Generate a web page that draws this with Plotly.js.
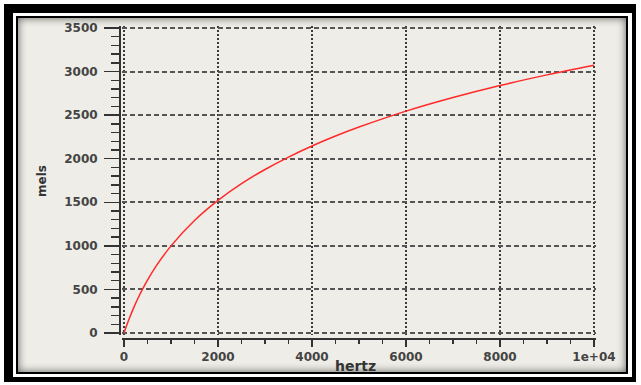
<!DOCTYPE html>
<html>
<head>
<meta charset="utf-8">
<script src="https://cdn.plot.ly/plotly-3.0.1.min.js"></script>
<style>
  html, body { margin:0; padding:0; background:#ffffff; width:641px; height:385px; overflow:hidden; }
  .box { position:absolute; }
  #b1 { left:4px; top:4px; width:632px; height:378px; background:#000; }
  #b2 { left:13px; top:13px; width:619px; height:364px; background:#fff; }
  #b3 { left:16px; top:16px; width:612px; height:358px; background:#000; }
  #b4 { left:18px; top:18px; width:608px; height:354px; background:#EEEDE7; box-shadow: inset 0 0 9px rgba(0,0,0,0.6); }
  #chart { position:absolute; left:0; top:0; width:641px; height:385px; }
</style>
</head>
<body>
<div class="box" id="b1"></div>
<div class="box" id="b2"></div>
<div class="box" id="b3"></div>
<div class="box" id="b4"></div>
<div id="chart"></div>
<script>
// values
const hertz = [0, 50, 100, 200, 300, 400, 500, 700, 1000, 1500, 2000, 2500, 3000, 3500, 4000, 4500, 5000, 6000, 7000, 8000, 9000, 10000];
const mels  = [0, 78, 150, 283, 402, 509, 607, 781, 1000, 1291, 1521, 1713, 1876, 2019, 2146, 2260, 2363, 2546, 2702, 2840, 2962, 3073];

const xTickVals = [0, 2000, 4000, 6000, 8000, 10000];
const xTickText = ['0', '2000', '4000', '6000', '8000', '1e+04'];
const yTickVals = [0, 500, 1000, 1500, 2000, 2500, 3000, 3500];
const yTickText = ['0', '500', '1000', '1500', '2000', '2500', '3000', '3500'];
const xTitle = 'hertz';
const yTitle = 'mels';

const W = 641, H = 385;
const mL = 100, mR = 45, mT = 26, mB = 40;
const pw = W - mL - mR, ph = H - mT - mB;

const tickFont = {family: 'DejaVu Sans, sans-serif', size: 12, color: '#444', weight: 'bold'};
const titleFont = {family: 'DejaVu Sans, sans-serif', size: 14, color: '#333', weight: 'bold'};

const trace = {
  x: hertz, y: mels, type: 'scatter', mode: 'lines',
  line: {color: '#ff2a2a', width: 1.5, shape: 'spline'},
  hoverinfo: 'skip'
};

const layout = {
  width: W, height: H,
  margin: {l: mL, r: mR, t: mT, b: mB, pad: 0},
  paper_bgcolor: 'rgba(0,0,0,0)',
  plot_bgcolor: 'rgba(0,0,0,0)',
  showlegend: false,
  xaxis: {
    domain: [(122 - mL) / pw, 1],
    anchor: 'free', position: (H - mB - 339) / ph,
    range: [-43, 10043], autorange: false, fixedrange: true,
    tickmode: 'array', tickvals: xTickVals, ticktext: xTickText,
    ticks: 'outside', ticklen: 7, tickwidth: 1.5, tickcolor: '#333',
    minor: {dtick: 500, tick0: 0, ticks: 'outside', ticklen: 4, tickwidth: 1.5, tickcolor: '#333', showgrid: false},
    showline: true, linecolor: '#333', linewidth: 2,
    showgrid: true, gridcolor: '#3a3a3a', gridwidth: 2, griddash: '2px,2px',
    zeroline: false,
    tickfont: tickFont
  },
  yaxis: {
    domain: [(H - mB - 335) / ph, 1],
    anchor: 'free', position: (120 - mL) / pw,
    range: [-23, 3523], autorange: false, fixedrange: true,
    tickmode: 'array', tickvals: yTickVals, ticktext: yTickText,
    ticks: 'outside', ticklen: 15, tickwidth: 1.5, tickcolor: '#333',
    minor: {dtick: 100, tick0: 0, ticks: 'outside', ticklen: 8, tickwidth: 1.5, tickcolor: '#333', showgrid: false},
    showline: true, linecolor: '#333', linewidth: 2,
    showgrid: true, gridcolor: '#555', gridwidth: 2, griddash: '5px,3px',
    zeroline: false,
    ticklabelstandoff: 4,
    tickfont: tickFont
  },
  annotations: [
    {text: xTitle, xref: 'paper', yref: 'paper', x: (355 - mL) / pw, y: (H - mB - 366) / ph,
     xanchor: 'center', yanchor: 'middle', showarrow: false, font: titleFont},
    {text: yTitle, xref: 'paper', yref: 'paper', x: (42 - mL) / pw, y: (H - mB - 181) / ph,
     xanchor: 'center', yanchor: 'middle', showarrow: false, textangle: -90,
     font: {family: 'DejaVu Sans, sans-serif', size: 12, color: '#333', weight: 'bold'}}
  ]
};

Plotly.newPlot('chart', [trace], layout, {staticPlot: true, displayModeBar: false});
</script>
</body>
</html>
